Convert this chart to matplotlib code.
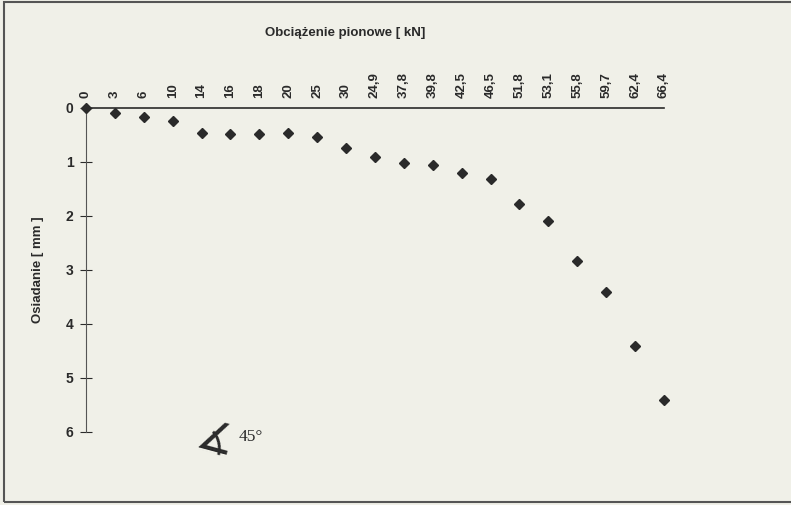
import matplotlib.pyplot as plt
from matplotlib.patches import Rectangle

# obciazenie pionowe [kN] - category labels, as printed
load_labels = ["0", "3", "6", "10", "14", "16", "18", "20", "25", "30", "24,9",
               "37,8", "39,8", "42,5", "46,5", "51,8", "53,1", "55,8", "59,7",
               "62,4", "66,4"]
# osiadanie [mm]
settlement = [0.0, 0.1, 0.17, 0.24, 0.47, 0.49, 0.49, 0.47, 0.53, 0.74, 0.91,
              1.02, 1.06, 1.2, 1.31, 1.78, 2.09, 2.83, 3.41, 4.41, 5.41]
y_ticks = [0, 1, 2, 3, 4, 5, 6]

bg = "#f0f0e8"
ink = "#2a2a2a"

fig = plt.figure(figsize=(7.91, 5.05), dpi=100, facecolor=bg)
ax = fig.add_axes([0.1087, 0.1446, 0.7307, 0.6416])
ax.set_facecolor(bg)

x = list(range(len(load_labels)))
ax.plot(x, settlement, linestyle="none", marker="D", markersize=5,
        color=ink, clip_on=False, zorder=5)

ax.set_xlim(0, len(load_labels) - 1)
ax.set_ylim(6, 0)

ax.xaxis.tick_top()
ax.set_xticks(x)
ax.set_xticklabels(load_labels, rotation=90, fontsize=9.5, color=ink,
                   family="Liberation Sans", fontweight="bold")
ax.tick_params(axis="x", length=0, pad=7)

ax.set_yticks(y_ticks)
ax.set_yticklabels([str(v) for v in y_ticks], fontsize=10, color=ink,
                   family="Liberation Sans", fontweight="bold")
ax.tick_params(axis="y", direction="inout", length=8, width=0.8,
               color=ink, pad=5)

for side in ("right", "bottom"):
    ax.spines[side].set_visible(False)
ax.spines["top"].set_color(ink)
ax.spines["top"].set_linewidth(1.2)
ax.spines["left"].set_color("#555555")
ax.spines["left"].set_linewidth(0.8)

ax.set_ylabel("Osiadanie [ mm ]", fontsize=9.5, fontweight="bold",
              color=ink, family="Liberation Sans", labelpad=16)
fig.text(0.436, 0.935, "Obciążenie pionowe [ kN]", ha="center", va="center",
         fontsize=9.5, fontweight="bold", color=ink, family="Liberation Sans")

# angle symbol annotation
fig.text(0.272, 0.128, "∡", ha="center", va="center", fontsize=30,
         color=ink, family="DejaVu Sans", rotation=-15)
fig.text(0.302, 0.135, "45°", ha="left", va="center", fontsize=12.5,
         color=ink, family="Liberation Serif")

# chart frame
fig.patches.append(Rectangle((0.005, 0.006), 1.2, 0.99, transform=fig.transFigure,
                             fill=False, edgecolor="#555555", linewidth=1.5))

fig.savefig("out.png", dpi=100, facecolor=bg)
